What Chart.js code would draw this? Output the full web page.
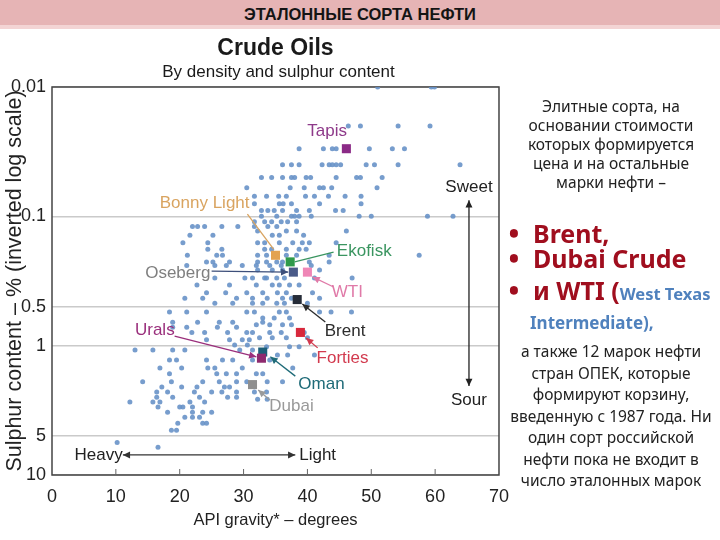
<!DOCTYPE html>
<html>
<head>
<meta charset="utf-8">
<script src="https://cdn.jsdelivr.net/npm/chart.js@4.4.0/dist/chart.umd.min.js"></script>
<style>
  html, body { margin: 0; padding: 0; background: #fff; width: 720px; height: 540px; overflow: hidden; }
  #hdr { position: absolute; left: 0; top: 0; width: 720px; height: 25px; background: #e6b4b5;
         border-bottom: 4px solid #f3d4d4; text-align: center; color: #141414;
         font: bold 16.5px 'Liberation Sans Narrow', 'Liberation Sans', sans-serif; line-height: 28px; }
  #wrap { position: absolute; left: 0; top: 30px; width: 520px; height: 510px; }
  .side { position: absolute; font-family: 'Noto Sans', sans-serif; color: #222; }
  .para { left: 503px; width: 216px; text-align: center; font-size: 15.5px; white-space: nowrap; }
  .bul { left: 509px; font-weight: bold; color: #a00e1e; font-size: 25px; line-height: 30px; white-space: nowrap; }
  .bul b { display: inline-block; width: 24px; }
  .blue { color: #4f81bd; font-size: 16.5px; }
</style>
</head>
<body>
<div id="hdr">ЭТАЛОННЫЕ СОРТА НЕФТИ</div>
<div id="wrap"><canvas id="c" width="520" height="510"></canvas></div>

<div class="side para" style="top:97px; line-height:19px;">Элитные сорта, на<br>основании стоимости<br>которых формируется<br>цена и на остальные<br>марки нефти –</div>
<div class="side bul" style="top:218px;"><b>•</b>Brent,</div>
<div class="side bul" style="top:243px;"><b>•</b>Dubai Crude</div>
<div class="side bul" style="top:275px;"><b>•</b>и WTI (<span class="blue">West Texas</span></div>
<div class="side bul blue" style="top:312px; left:530px; line-height:22px; font-size:17px;">Intermediate),</div>
<div class="side para" style="top:341px; line-height:21.5px;">а также 12 марок нефти<br>стран ОПЕК, которые<br>формируют корзину,<br>введенную с 1987 года. Ни<br>один сорт российской<br>нефти пока не входит в<br>число эталонных марок</div>

<script>
// sulphur content (%) of each row of sample crudes, and the API gravities in that row
const sampleSulphur = [0.01, 0.02, 0.03, 0.04, 0.05, 0.06, 0.07, 0.08, 0.09, 0.1, 0.11, 0.12, 0.13, 0.14,
  0.16, 0.18, 0.2, 0.225, 0.24, 0.26, 0.3, 0.34, 0.39, 0.43, 0.47, 0.55, 0.61, 0.66, 0.69, 0.72, 0.79,
  0.87, 0.9, 0.99, 1.02, 1.08, 1.18, 1.29, 1.49, 1.65, 1.9, 2.09, 2.28, 2.5, 2.6, 2.73, 2.98, 3.27,
  3.57, 3.98, 4.5, 5.6, 6.1];
const sampleApi = [
  [51, 59.4, 59.9],
  [46.4, 48.3, 54.2, 59.2],
  [38.7, 42.5, 43.9, 44.5, 49.7, 53.3, 55.2],
  [36.1, 37.5, 38.7, 42.3, 43.4, 43.9, 44.5, 45.2, 49.2, 50.5, 54.2, 63.9],
  [32.8, 34.4, 36.1, 37.5, 38.0, 39.8, 40.5, 44.5, 47.7, 48.3, 51.7],
  [30.5, 37.3, 39.5, 41.9, 42.5, 43.8, 50.9],
  [31.7, 33.6, 35.5, 36.7, 39.7, 41.1, 43.3, 45.9, 48.4],
  [31.7, 35.6, 36.2, 37.5, 41.9, 48.4],
  [32.8, 33.8, 34.8, 36.1, 38.3, 40.3, 44.4, 45.6],
  [32.8, 35.2, 37.5, 38.0, 38.7, 40.6, 48.1, 50.0, 58.8, 62.8],
  [31.7, 33.3, 34.4, 35.9, 36.9, 38.3],
  [22.0, 22.8, 23.9, 26.6, 29.1, 31.7, 33.8, 35.2],
  [32.2, 36.7, 38.3, 46.1],
  [21.6, 25.2, 34.5, 35.6, 39.4],
  [20.5, 24.4, 32.2, 33.3, 35.6, 37.7, 39.2, 40.3, 44.5],
  [24.4, 26.6, 33.3, 34.4, 36.7, 38.7, 39.8],
  [21.2, 25.8, 26.7, 32.2, 33.6, 36.7, 38.3, 43.4, 57.5],
  [24.2, 25.2, 27.8, 32.2, 33.6, 35.2, 36.1, 40.3, 43.4],
  [21.1, 25.5, 27.3, 29.8, 32.0, 34.1, 35.9, 40.6],
  [32.2, 34.5, 36.1, 41.9],
  [25.5, 30.2, 31.4, 33.3, 33.6, 35.2, 36.4, 41.1, 47.0],
  [22.7, 27.8, 32.0, 34.5, 35.6, 37.2, 38.7],
  [24.2, 27.2, 30.5, 33.0, 35.3, 36.7, 40.8],
  [20.8, 23.6, 28.9, 31.4, 33.7, 36.1, 37.5, 41.9],
  [25.5, 28.3, 31.4, 33.0, 35.2, 36.4, 40.0],
  [18.4, 21.1, 24.2, 30.5, 31.7, 35.6, 36.7, 41.9, 43.7, 46.9],
  [33.0, 34.8, 37.2],
  [18.9, 22.8, 26.2, 28.3, 33.0],
  [32.0, 34.1, 36.1, 37.5],
  [18.9, 21.1, 25.9, 28.9],
  [21.9, 23.9, 27.5, 30.5, 31.4, 34.1, 35.9, 39.5],
  [32.5, 34.5, 36.7, 40.0],
  [24.2, 27.8, 29.8, 30.9],
  [28.6, 30.6],
  [33.6, 37.2, 38.7],
  [13.0, 15.8, 18.9, 20.8, 29.4, 31.4],
  [35.3, 36.9, 41.1],
  [18.4, 19.5, 24.2, 26.7, 28.3, 31.4, 34.1],
  [16.9, 20.3, 24.4, 25.5, 29.8, 37.7],
  [18.4, 25.8, 27.3, 28.9, 32.0, 33.0],
  [14.2, 18.7, 23.6, 26.2, 28.9, 30.5, 33.7, 36.1],
  [17.2, 20.3, 22.7, 27.0, 27.8],
  [16.4, 18.1, 22.3, 25.0, 26.6, 28.9, 31.7, 33.6],
  [16.4, 18.9, 23.1, 27.5, 28.9],
  [32.2, 33.7],
  [12.2, 15.8, 16.9, 21.6, 23.9],
  [16.6, 20.0, 20.5, 22.0],
  [18.1, 22.0, 23.6, 25.0],
  [20.8, 22.0, 23.1],
  [19.7, 23.6, 24.2],
  [18.7, 19.5],
  [10.2],
  [16.6]
];

// benchmark crudes
const crudeNames = ['Tapis', 'Bonny Light', 'Ekofisk', 'Oseberg', 'WTI', 'Brent', 'Forties', 'Oman', 'Urals', 'Dubai'];
const crudeApi = [46.1, 35.0, 37.3, 37.8, 40.0, 38.4, 38.9, 33.0, 32.8, 31.4];
const crudeSulphur = [0.03, 0.2, 0.225, 0.27, 0.27, 0.44, 0.79, 1.12, 1.25, 2.0];
const crudeColors = ['#8b2a86', '#e3a24f', '#2f9a4a', '#4a5a88', '#ef86b6', '#262c38', '#d8283c', '#1c5f78', '#8e2a6e', '#8f8f8f'];

const xTicks = [0, 10, 20, 30, 40, 50, 60, 70];
const yTicks = [0.01, 0.1, 0.5, 1, 5, 10];
const yTickLabels = ['0.01', '0.1', '0.5', '1', '5', '10'];

const F = "'Liberation Sans', Arial, sans-serif";

const samplePoints = [];
sampleSulphur.forEach((s, i) => sampleApi[i].forEach(a => samplePoints.push({ x: a, y: s })));

// text labels and leader lines, placed in data units (api, sulphur)
const labels = [
  { text: 'Tapis', x: 43.1, y: 0.0219, color: '#8e3a8a' },
  { text: 'Bonny Light', x: 23.9, y: 0.079, color: '#d9a460' },
  { text: 'Ekofisk', x: 48.9, y: 0.185, color: '#3a9560' },
  { text: 'Oseberg', x: 19.7, y: 0.275, color: '#7f7f7f' },
  { text: 'WTI', x: 46.25, y: 0.385, color: '#e07aa8' },
  { text: 'Brent', x: 45.9, y: 0.77, color: '#2c2c2c' },
  { text: 'Forties', x: 45.5, y: 1.25, color: '#d23a4e' },
  { text: 'Urals', x: 16.1, y: 0.76, color: '#9a2f7c' },
  { text: 'Oman', x: 42.2, y: 1.98, color: '#1f6b78' },
  { text: 'Dubai', x: 37.5, y: 2.93, color: '#9a9a9a' },
  { text: 'Sweet', x: 65.3, y: 0.06, color: '#222' },
  { text: 'Sour', x: 65.3, y: 2.63, color: '#222' },
  { text: 'Heavy', x: 7.3, y: 7.0, color: '#222' },
  { text: 'Light', x: 41.6, y: 7.0, color: '#222' }
];
const leaders = [
  { from: [30.6, 0.096], to: [34.7, 0.179], color: '#d9a460', heads: [] },
  { from: [44.1, 0.189], to: [38.0, 0.225], color: '#3a9560', heads: [] },
  { from: [25.0, 0.265], to: [37.0, 0.27], color: '#3d4f7a', heads: ['end'] },
  { from: [44.1, 0.352], to: [40.8, 0.294], color: '#e07aa8', heads: ['end'] },
  { from: [42.8, 0.657], to: [39.2, 0.476], color: '#2c2c2c', heads: ['end'] },
  { from: [41.6, 1.04], to: [39.8, 0.873], color: '#d23a4e', heads: ['end'] },
  { from: [19.2, 0.843], to: [32.0, 1.22], color: '#9a2f7c', heads: ['end'] },
  { from: [38.1, 1.72], to: [34.2, 1.22], color: '#1f6b78', heads: ['end'] },
  { from: [34.1, 2.63], to: [32.3, 2.2], color: '#9a9a9a', heads: ['end'] },
  { from: [65.3, 2.05], to: [65.3, 0.075], color: '#222', heads: ['start', 'end'] },
  { from: [11.1, 7.0], to: [38.1, 7.0], color: '#333', heads: ['start', 'end'] }
];

function head(ctx, fx, fy, tx, ty, size) {
  const ang = Math.atan2(ty - fy, tx - fx);
  ctx.beginPath();
  ctx.moveTo(tx, ty);
  ctx.lineTo(tx - size * Math.cos(ang - 0.45), ty - size * Math.sin(ang - 0.45));
  ctx.lineTo(tx - size * Math.cos(ang + 0.45), ty - size * Math.sin(ang + 0.45));
  ctx.closePath();
  ctx.fill();
}

const overlay = {
  id: 'overlay',
  beforeDatasetsDraw(chart) {
    const { ctx, chartArea: a, scales: { x } } = chart;
    ctx.save();
    ctx.strokeStyle = '#444';
    ctx.lineWidth = 1.5;
    ctx.strokeRect(a.left, a.top, a.right - a.left, a.bottom - a.top);
    // small ticks inside the bottom axis
    ctx.lineWidth = 1;
    ctx.strokeStyle = '#666';
    xTicks.slice(1, -1).forEach(v => {
      const px = x.getPixelForValue(v);
      ctx.beginPath();
      ctx.moveTo(px, a.bottom);
      ctx.lineTo(px, a.bottom - 6);
      ctx.stroke();
    });
    // title
    const cx = (a.left + a.right) / 2;
    ctx.fillStyle = '#1a1a1a';
    ctx.textAlign = 'center';
    ctx.textBaseline = 'middle';
    ctx.font = 'bold 23px ' + F;
    ctx.fillText('Crude Oils', cx, 19);
    ctx.font = '17px ' + F;
    ctx.fillText('By density and sulphur content', cx + 3, 42);
    ctx.restore();
  },
  afterDatasetsDraw(chart) {
    const { ctx, scales: { x, y } } = chart;
    ctx.save();
    leaders.forEach(l => {
      const x1 = x.getPixelForValue(l.from[0]), y1 = y.getPixelForValue(l.from[1]);
      const x2 = x.getPixelForValue(l.to[0]), y2 = y.getPixelForValue(l.to[1]);
      ctx.strokeStyle = l.color;
      ctx.fillStyle = l.color;
      ctx.lineWidth = 1.3;
      ctx.beginPath();
      ctx.moveTo(x1, y1);
      ctx.lineTo(x2, y2);
      ctx.stroke();
      if (l.heads.includes('end')) head(ctx, x1, y1, x2, y2, 8);
      if (l.heads.includes('start')) head(ctx, x2, y2, x1, y1, 8);
    });
    ctx.textAlign = 'center';
    ctx.textBaseline = 'middle';
    ctx.font = '17px ' + F;
    labels.forEach(t => {
      const px = x.getPixelForValue(t.x), py = y.getPixelForValue(t.y);
      ctx.fillStyle = t.color;
      ctx.fillText(t.text, px, py);
    });
    ctx.restore();
  }
};

new Chart(document.getElementById('c'), {
  type: 'scatter',
  data: {
    datasets: [
      {
        label: 'Benchmarks',
        data: crudeNames.map((n, i) => ({ x: crudeApi[i], y: crudeSulphur[i] })),
        pointStyle: 'rect',
        pointRadius: 6.4,
        backgroundColor: crudeColors,
        borderWidth: 0,
        order: 0
      },
      {
        label: 'Crude oils',
        data: samplePoints,
        pointRadius: 2.5,
        backgroundColor: 'rgba(104,146,200,0.9)',
        borderWidth: 0,
        order: 1
      }
    ]
  },
  options: {
    responsive: false,
    animation: false,
    layout: { padding: { top: 57, right: 15, left: 0, bottom: 0 } },
    plugins: { legend: { display: false }, tooltip: { enabled: false } },
    scales: {
      x: {
        type: 'linear', min: 0, max: 70,
        afterBuildTicks: s => { s.ticks = xTicks.map(v => ({ value: v })); },
        grid: { display: false, drawTicks: false },
        border: { display: false },
        ticks: { padding: 11, color: '#222', font: { size: 18, family: F } },
        title: { display: true, text: 'API gravity* – degrees', color: '#222', font: { size: 16.5, family: F }, padding: { top: 0, bottom: 10 } },
        afterFit: s => { s.height = 65; }
      },
      y: {
        type: 'logarithmic', reverse: true, min: 0.01, max: 10,
        afterBuildTicks: s => { s.ticks = yTicks.map(v => ({ value: v })); },
        grid: { color: '#cacaca', lineWidth: 1.5, drawTicks: false },
        border: { display: false },
        ticks: { padding: 6, color: '#222', font: { size: 18, family: F }, callback: (v, i) => yTickLabels[i] },
        title: { display: true, text: 'Sulphur content – % (inverted log scale)', color: '#222', font: { size: 21.5, family: F }, padding: { top: 2, bottom: 0 } },
        afterFit: s => { s.width = 52; }
      }
    }
  },
  plugins: [overlay]
});
</script>
</body>
</html>
